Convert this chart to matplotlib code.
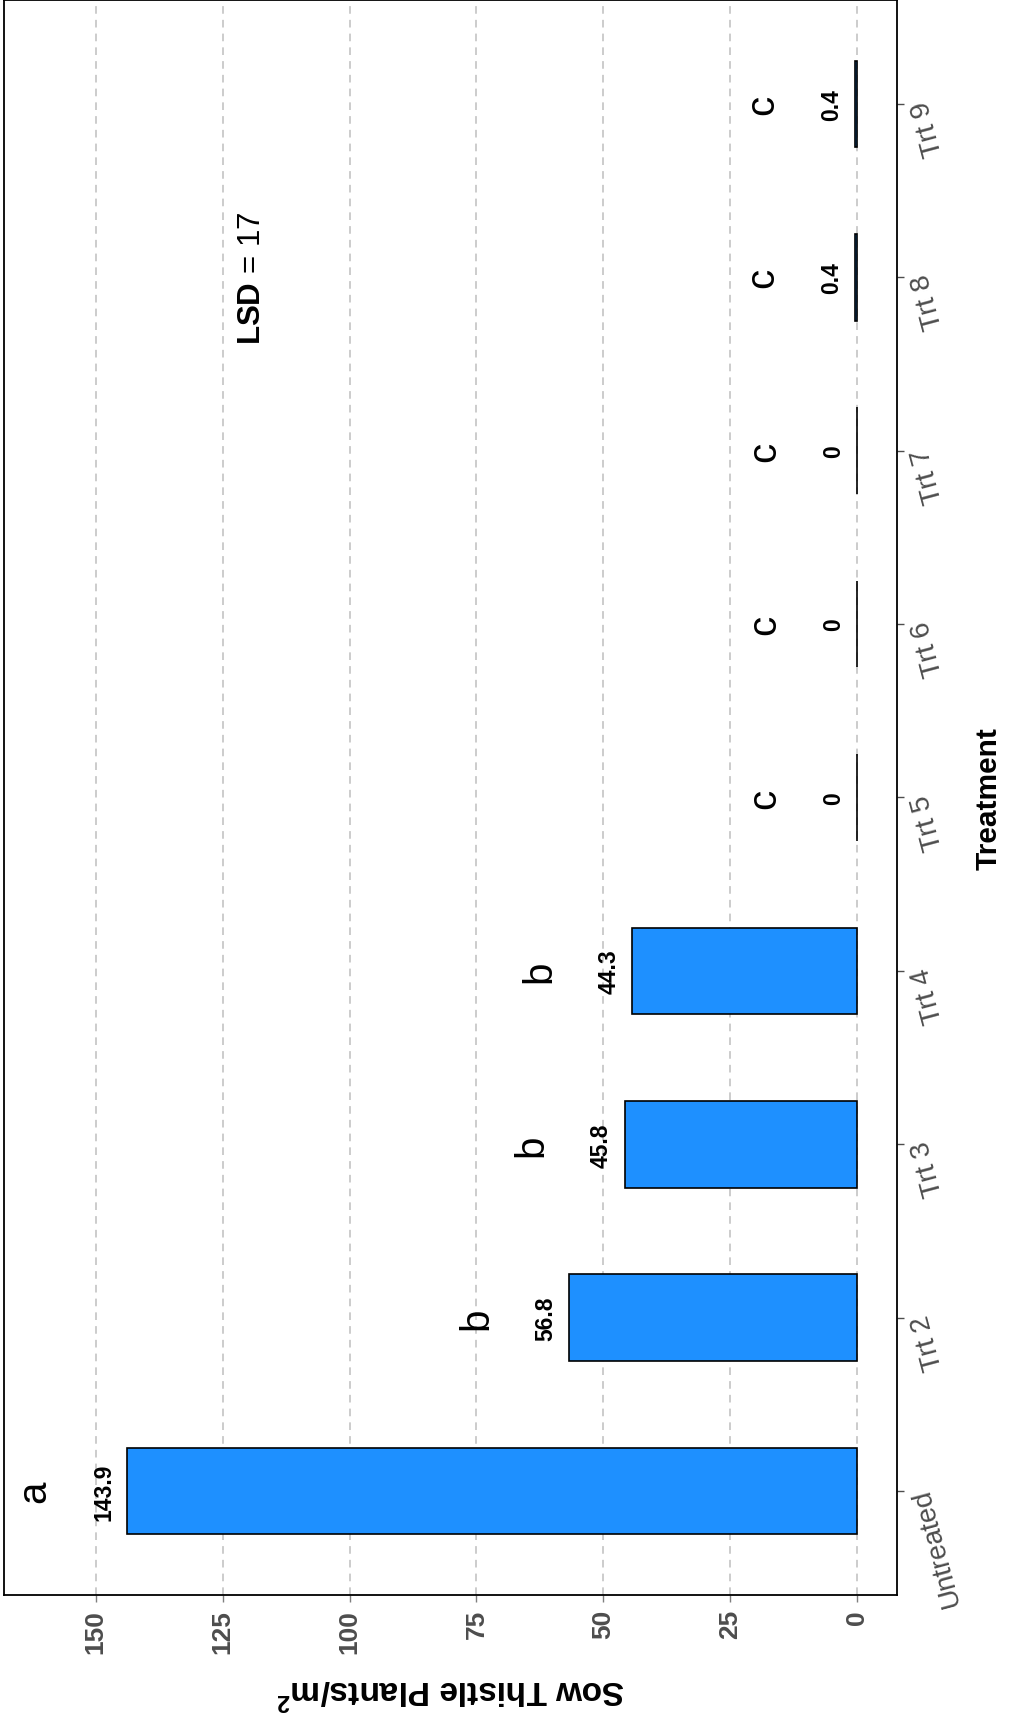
import numpy as np
import matplotlib.pyplot as plt

plt.rcParams['font.family'] = ['Liberation Sans', 'DejaVu Sans']
plt.rcParams['mathtext.fontset'] = 'custom'
plt.rcParams['mathtext.rm'] = 'Liberation Sans'
plt.rcParams['mathtext.bf'] = 'Liberation Sans:bold'

# data
treatments = ["Untreated", "Trt 2", "Trt 3", "Trt 4", "Trt 5",
              "Trt 6", "Trt 7", "Trt 8", "Trt 9"]
density = [143.9, 56.8, 45.8, 44.3, 0, 0, 0, 0.4, 0.4]
letters = ["a", "b", "b", "b", "c", "c", "c", "c", "c"]
lsd = 17
value_ticks = [0, 25, 50, 75, 100, 125, 150]

grey_txt = "#4D4D4D"

fig = plt.figure(figsize=(10.09, 17.24), dpi=100)
ax = fig.add_axes([0.004, 0.0742, 0.885, 0.9253])

pos = np.arange(len(treatments))
ax.barh(pos, density, height=0.5, color="#1E90FF", edgecolor="black",
        linewidth=1.2, zorder=2)

# value labels and significance letters (chart is drawn turned on its side)
for y, v, let in zip(pos, density, letters):
    ax.text(v + 3.3, y, f"{v:g}", rotation=90, rotation_mode="anchor",
            ha="center", va="baseline", fontsize=16.5, fontweight="bold")
    ax.text(v + 16.1, y, let, rotation=90, rotation_mode="anchor",
            ha="center", va="baseline", fontsize=29)

ax.text(117.6, 7, rf"$\mathbf{{LSD}}$ = {lsd}", rotation=90,
        rotation_mode="anchor", ha="center", va="baseline", fontsize=22.5)

ax.set_xlim(168.1, -7.9)
ax.set_ylim(-0.6, 8.6)

ax.xaxis.grid(True, color="#BEBEBE", linestyle=(0, (5, 4)), linewidth=1.1)
ax.set_axisbelow(True)

ax.tick_params(axis="x", length=5, width=1, color="#7F7F7F", pad=5)
ax.yaxis.tick_right()
ax.yaxis.set_label_position("right")
ax.tick_params(axis="y", length=5, width=1, color=grey_txt, pad=3)

ax.set_xticks(value_ticks)
ax.set_xticklabels([str(t) for t in value_ticks], rotation=90, ha="center",
                   va="top", fontsize=19, fontweight="bold", color=grey_txt)
ax.set_yticks(pos)
ax.set_yticklabels(treatments, rotation=105, rotation_mode="anchor",
                   ha="right", va="top", fontsize=20, color=grey_txt)

for s in ax.spines.values():
    s.set_color("black")
    s.set_linewidth(1.3)

ax.set_xlabel(r"Sow Thistle Plants/m$^{\mathbf{2}}$", rotation=180,
              fontsize=24, fontweight="bold", labelpad=14)
ax.set_ylabel("Treatment", rotation=90, fontsize=21.5, fontweight="bold",
              labelpad=7)

fig.savefig("out.png", dpi=100)
